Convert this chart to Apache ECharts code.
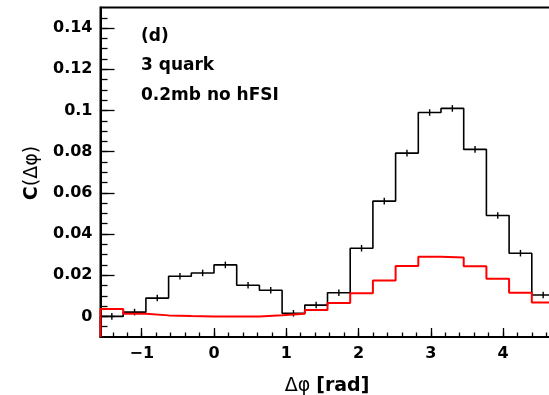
<!DOCTYPE html>
<html>
<head>
<meta charset="utf-8">
<script src="https://cdn.jsdelivr.net/npm/echarts@6/dist/echarts.min.js"></script>
<style>
html,body{margin:0;padding:0;background:#fff;}
#chart{width:549px;height:395px;}
</style>
</head>
<body>
<div id="chart"></div>
<script>
// Histogram: 20 bins over [-pi/2, 3pi/2]
const xMin = -Math.PI / 2;
const xMax = 3 * Math.PI / 2;
const nBins = 20;
const blackValues = [0.0000, 0.0021, 0.0089, 0.0195, 0.0211, 0.0250, 0.0151, 0.0127, 0.0015, 0.0055,
                     0.0115, 0.0331, 0.0560, 0.0793, 0.0990, 0.1010, 0.0811, 0.0490, 0.0307, 0.0104];
const blackErrors = [0.0016, 0.0016, 0.0016, 0.0016, 0.0016, 0.0016, 0.0016, 0.0016, 0.0016, 0.0016,
                     0.0016, 0.0016, 0.0016, 0.0016, 0.0016, 0.0016, 0.0016, 0.0016, 0.0016, 0.0016];
const redValues = [0.0036, 0.0013, 0.0005, 0.0002, 0.0000, 0.0000, 0.0000, 0.0006, 0.0013, 0.0031,
                   0.0065, 0.0112, 0.0174, 0.0245, 0.0290, 0.0286, 0.0243, 0.0183, 0.0115, 0.0067];
const yMin = -0.01, yMax = 0.15;
const yTickLabels = [0, 0.02, 0.04, 0.06, 0.08, 0.1, 0.12, 0.14];
const yMinorTicks = [-0.005, 0, 0.005, 0.01, 0.015, 0.02, 0.025, 0.03, 0.035, 0.04, 0.045, 0.05, 0.055, 0.06,
                     0.065, 0.07, 0.075, 0.08, 0.085, 0.09, 0.095, 0.1, 0.105, 0.11, 0.115, 0.12, 0.125, 0.13, 0.135, 0.14, 0.145];
const xTickLabels = [-1, 0, 1, 2, 3, 4];
const xMinorTicks = [-1.4, -1.2, -1, -0.8, -0.6, -0.4, -0.2, 0, 0.2, 0.4, 0.6, 0.8, 1, 1.2, 1.4, 1.6, 1.8, 2,
                     2.2, 2.4, 2.6, 2.8, 3, 3.2, 3.4, 3.6, 3.8, 4, 4.2, 4.4, 4.6];
const annotations = ['(d)', '3 quark', '0.2mb no hFSI'];

const binW = (xMax - xMin) / nBins;
function stepData(vals) {
  const d = [[xMin, yMin]];
  vals.forEach((v, i) => d.push([xMin + i * binW, v]));
  d.push([xMax, vals[vals.length - 1]]);
  d.push([xMax, yMin]);
  return d;
}
const errData = blackValues.map((v, i) => [xMin + (i + 0.5) * binW, v, blackErrors[i]]);

const FONT = 'DejaVu Sans';
const fmtX = v => (v < 0 ? '\u2212' + Math.abs(v) : String(v));

const chart = echarts.init(document.getElementById('chart'), null, {renderer: 'canvas'});
chart.setOption({
  animation: false,
  backgroundColor: '#fff',
  grid: {left: 100.5, width: 454, top: 7.5, height: 329.5, outerBoundsMode: 'none', containLabel: false,
         show: true, borderColor: '#000', borderWidth: 2, backgroundColor: 'transparent'},
  xAxis: [
    {type: 'value', min: xMin, max: xMax, position: 'bottom',
     axisLine: {show: true, onZero: false, lineStyle: {color: '#000', width: 2}},
     splitLine: {show: false},
     axisTick: {show: true, inside: true, length: 9, customValues: xTickLabels, lineStyle: {color: '#000', width: 1.3}},
     axisLabel: {customValues: xTickLabels, formatter: fmtX, fontFamily: FONT, fontWeight: 'bold', fontSize: 16, color: '#000', margin: 9}},
    {type: 'value', min: xMin, max: xMax, position: 'bottom',
     axisLine: {show: false, onZero: false}, splitLine: {show: false},
     axisTick: {show: true, inside: true, length: 4.5, customValues: xMinorTicks, lineStyle: {color: '#000', width: 1.3}},
     axisLabel: {show: false}}
  ],
  yAxis: [
    {type: 'value', min: yMin, max: yMax, position: 'left',
     axisLine: {show: true, onZero: false, lineStyle: {color: '#000', width: 2}},
     splitLine: {show: false},
     axisTick: {show: true, inside: true, length: 14, customValues: yTickLabels, lineStyle: {color: '#000', width: 1.3}},
     axisLabel: {customValues: yTickLabels, fontFamily: FONT, fontWeight: 'bold', fontSize: 16, color: '#000', margin: 8}},
    {type: 'value', min: yMin, max: yMax, position: 'left',
     axisLine: {show: false, onZero: false}, splitLine: {show: false},
     axisTick: {show: true, inside: true, length: 7, customValues: yMinorTicks, lineStyle: {color: '#000', width: 1.3}},
     axisLabel: {show: false}}
  ],
  series: [
    {type: 'line', step: 'end', data: stepData(blackValues), symbol: 'none', xAxisIndex: 0, yAxisIndex: 0,
     lineStyle: {color: '#000', width: 1.6}, z: 3, clip: true},
    {type: 'custom', xAxisIndex: 0, yAxisIndex: 0, data: errData, z: 4,
     renderItem: function (params, api) {
       const x = api.value(0), v = api.value(1), e = api.value(2);
       const p1 = api.coord([x, v - e]);
       const p2 = api.coord([x, v + e]);
       return {type: 'line', shape: {x1: p1[0], y1: p1[1], x2: p2[0], y2: p2[1]},
               style: {stroke: '#000', lineWidth: 1.4}};
     }},
    {type: 'line', step: 'end', data: stepData(redValues), symbol: 'none', xAxisIndex: 0, yAxisIndex: 0,
     lineStyle: {color: '#ff0000', width: 2}, z: 5, clip: true}
  ],
  graphic: [
    {type: 'text', left: 141, top: 28, style: {text: annotations[0], font: 'bold 17px "DejaVu Sans"', fill: '#000'}},
    {type: 'text', left: 141, top: 57, style: {text: annotations[1], font: 'bold 17px "DejaVu Sans"', fill: '#000'}},
    {type: 'text', left: 141, top: 87, style: {text: annotations[2], font: 'bold 17px "DejaVu Sans"', fill: '#000'}},
    {type: 'text', x: 327, y: 386, style: {text: '{a|\u0394\u03c6 }{b|[rad]}', align: 'center', verticalAlign: 'middle',
      rich: {a: {fontFamily: FONT, fontSize: 19, fill: '#000', color: '#000'},
             b: {fontFamily: FONT, fontSize: 19, fontWeight: 'bold', fill: '#000', color: '#000'}}}},
    {type: 'text', x: 32, y: 173, rotation: Math.PI / 2, style: {text: '{b|C}{a|(\u0394\u03c6)}', align: 'center', verticalAlign: 'middle',
      rich: {a: {fontFamily: FONT, fontSize: 19, fill: '#000', color: '#000'},
             b: {fontFamily: FONT, fontSize: 19, fontWeight: 'bold', fill: '#000', color: '#000'}}}}
  ]
});
</script>
</body>
</html>
